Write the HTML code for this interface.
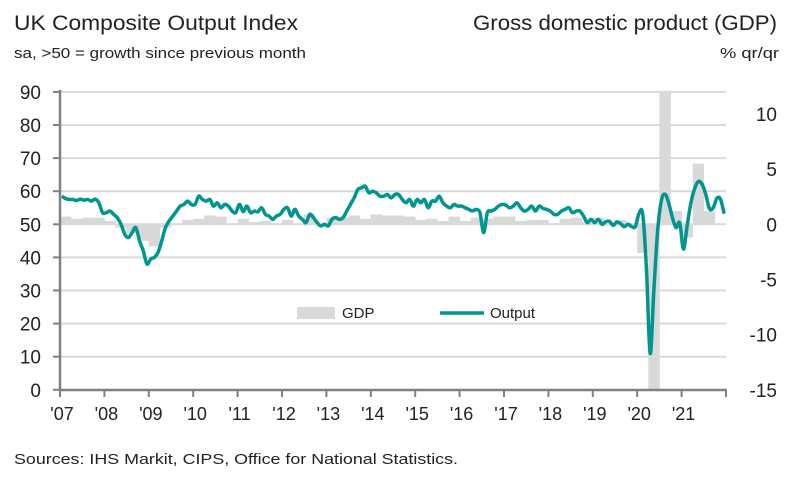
<!DOCTYPE html>
<html><head><meta charset="utf-8"><style>
body{margin:0;background:#fff;font-family:"Liberation Sans",sans-serif;}
svg text{font-family:"Liberation Sans",sans-serif;fill:#222;}
</style></head><body>
<svg id="c" width="789" height="492" viewBox="0 0 789 492">
<text x="14" y="30" font-size="21" textLength="284" lengthAdjust="spacingAndGlyphs">UK Composite Output Index</text>
<text x="14" y="58" font-size="15" textLength="292" lengthAdjust="spacingAndGlyphs">sa, &gt;50 = growth since previous month</text>
<text x="473" y="30" font-size="21" textLength="304" lengthAdjust="spacingAndGlyphs">Gross domestic product (GDP)</text>
<text x="720" y="58" font-size="15" textLength="59" lengthAdjust="spacingAndGlyphs">% qr/qr</text>
<g id="grid"></g><g id="bars"></g><g id="axes"></g><g id="line"></g>
<g>
<rect x="297" y="307" width="38" height="12" fill="#d9d9d9"/>
<text x="342" y="318" font-size="15">GDP</text>
<line x1="440" y1="313" x2="484" y2="313" stroke="#00968f" stroke-width="3.5"/>
<text x="490" y="318" font-size="15">Output</text>
</g>
<text x="14" y="464" font-size="15" textLength="444" lengthAdjust="spacingAndGlyphs">Sources: IHS Markit, CIPS, Office for National Statistics.</text>
</svg>
<script>
const leftTicks=[0,10,20,30,40,50,60,70,80,90];
const rightTicks=[10,5,0,-5,-10,-15];
const yearLabels=["'07","'08","'09","'10","'11","'12","'13","'14","'15","'16","'17","'18","'19","'20","'21"];
const gdp=[0.7,0.5,0.6,0.6, 0.3,-0.3,-0.8,-1.5, -2.0,-0.3,0.1,0.4, 0.5,0.8,0.7,0.1, 0.5,0.2,0.3,0.1, 0.4,0.0,0.9,-0.1, 0.6,0.6,0.8,0.5, 0.9,0.8,0.8,0.7, 0.4,0.5,0.3,0.7, 0.3,0.6,0.5,0.7, 0.7,0.3,0.4,0.4, 0.1,0.5,0.6,0.2, 0.6,-0.1,0.4,0.1, -2.6,-19.8,16.9,1.2, -1.2,5.5,1.2];
const output=[
58.5,57.8,57.5,57.5,57.2,57.6,57.3,57.5,57.0,57.6,56.5,53.5,
53.5,54,53,52,50,47,46,47.5,49,45,42,38,
39.5,40,41.5,45,49,51,52.5,54,55.5,56,57,56,
56,58.5,57.5,57,57.5,55.5,56.5,55,56,55.5,54,53.5,
56,53.8,55.5,53.5,54,53.8,55,53,52.5,51.5,52.5,53,
54.5,55,52.5,54.5,52.5,51.5,50.5,53,52,50.5,49.5,50,
49.5,51.5,52,51.5,52,54,56,58,60.5,61,61.5,59.5,
60,59.5,58.5,58.5,59,58,59,59,57.5,56.5,57.5,55.5,
57.5,56.5,57.5,55,57,57,58.5,56.5,55.5,55,56,55.5,
55.5,55,54.5,54,54.5,53.5,47.5,53.5,54,54.5,55.5,56,
55.8,55,55.5,56.5,55,54,54.5,55.5,54,55.5,54.8,54.5,
54,53,53,54,54.5,55,53.5,54,54,52.5,50.5,51.5,
50.5,51.5,50,50.8,50.9,49.7,50.7,50.2,49.3,50,49.3,49.3,
53.3,53,36.5,11,30,47.7,57,59.1,56.5,52.1,49,50.4,
42.5,49.6,56.4,60.7,62.9,62.2,59.2,54.8,54.9,57.8,57.6,53.2];
const X0=60,YW=44.4,NS="http://www.w3.org/2000/svg";
const xt=t=>X0+t*YW;
const yL=v=>389.8-v*3.31;
const yR=v=>224.3-v*11.03;
function mk(tag,attrs,parent){const e=document.createElementNS(NS,tag);for(const k in attrs)e.setAttribute(k,attrs[k]);parent.appendChild(e);return e;}
const grid=document.getElementById('grid'),axes=document.getElementById('axes'),bars=document.getElementById('bars'),lineG=document.getElementById('line');
leftTicks.forEach(v=>{
 if(v>0){const g=mk('line',{x1:X0,x2:726,y1:yL(v),y2:yL(v),stroke:'#d9d9d9','stroke-width':2},grid);
 
 }
 const tk=mk('line',{x1:53,x2:X0,y1:yL(v),y2:yL(v),stroke:'#808080','stroke-width':2},axes);
 
 
 const t=mk('text',{x:41,y:yL(v)+7,'font-size':19,'text-anchor':'end'},axes);t.textContent=v;
 
 
});
rightTicks.forEach(v=>{
 const t=mk('text',{x:777,y:yR(v)+7,'font-size':19,'text-anchor':'end'},axes);t.textContent=v;
 
 
});
const ax=mk('line',{x1:X0,x2:X0,y1:90,y2:391,stroke:'#808080','stroke-width':2.5},axes);


const bx=mk('line',{x1:X0,x2:727,y1:390,y2:390,stroke:'#808080','stroke-width':2.5},axes);


for(let i=0;i<=yearLabels.length;i++){
 const tk=mk('line',{x1:xt(i),x2:xt(i),y1:390,y2:397,stroke:'#808080','stroke-width':2},axes);
 
 
 if(i<yearLabels.length){const t=mk('text',{x:xt(i)+2,y:420,'font-size':18,'text-anchor':'middle'},axes);t.textContent=yearLabels[i];
 
 }
}
gdp.forEach((v,i)=>{
 const x1=xt(i/4),x2=xt((i+1)/4);
 let y=yR(v);y=Math.max(92,Math.min(390,y));const y0=yR(0);
 const r=mk('rect',{x:x1,width:x2-x1+0.3,y:Math.min(y,y0),height:Math.abs(y-y0),fill:'#d9d9d9'},bars);
 
 
});
let pts=output.map((v,i)=>[xt((i+0.5)/12),yL(v)]);
let d='M'+pts[0][0]+','+pts[0][1];
for(let i=1;i<pts.length;i++){
 const p0=pts[Math.max(0,i-2)],p1=pts[i-1],p2=pts[i],p3=pts[Math.min(pts.length-1,i+1)];
 const c1x=p1[0]+(p2[0]-p0[0])/6,c1y=p1[1]+(p2[1]-p0[1])/6,c2x=p2[0]-(p3[0]-p1[0])/6,c2y=p2[1]-(p3[1]-p1[1])/6;
 d+=` C${c1x},${c1y} ${c2x},${c2y} ${p2[0]},${p2[1]}`;
}
const pl=mk('path',{d:d,fill:'none',stroke:'#00968f','stroke-width':3.5,'stroke-linejoin':'round'},lineG);


</script>
</body></html>
